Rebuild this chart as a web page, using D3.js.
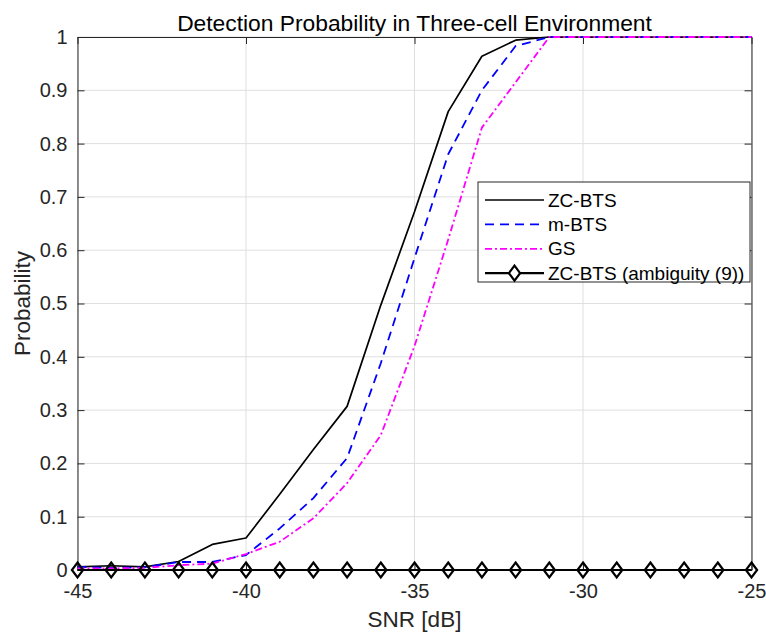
<!DOCTYPE html>
<html>
<head>
<meta charset="utf-8">
<script src="https://cdn.jsdelivr.net/npm/d3@7"></script>
<style>
  body { margin: 0; background: #fff; }
  svg { font-family: "Liberation Sans", Arial, sans-serif; }
</style>
</head>
<body>
<div id="chart"></div>
<script>
// ---------------- data
const snr = [-45, -44, -43, -42, -41, -40, -39, -38, -37, -36, -35, -34, -33, -32, -31, -30, -29, -28, -27, -26, -25]
const zcBts = [0.006, 0.008, 0.006, 0.016, 0.048, 0.060, 0.142, 0.226, 0.307, 0.497, 0.672, 0.860, 0.964, 0.994, 1, 1, 1, 1, 1, 1, 1]
const mBts  = [0.006, 0.004, 0.005, 0.015, 0.015, 0.028, 0.078, 0.135, 0.210, 0.388, 0.585, 0.780, 0.900, 0.983, 1, 1, 1, 1, 1, 1, 1]
const gs    = [0.003, 0.003, 0.004, 0.009, 0.012, 0.030, 0.053, 0.097, 0.163, 0.253, 0.420, 0.620, 0.830, 0.915, 1, 1, 1, 1, 1, 1, 1]
const zcAmb = [0, 0, 0, 0, 0, 0, 0, 0, 0, 0, 0, 0, 0, 0, 0, 0, 0, 0, 0, 0, 0]

const xTicks = [-45, -40, -35, -30, -25]
const yTicks = [0, 0.1, 0.2, 0.3, 0.4, 0.5, 0.6, 0.7, 0.8, 0.9, 1]
const seriesNames = ["ZC-BTS", "m-BTS", "GS", "ZC-BTS (ambiguity (9))"]

// ---------------- dimensions
const dims = {
    width: 766,
    height: 632,
    margin: { top: 37, right: 14.5, bottom: 62, left: 77.5 }
}
dims.boundedWidth = dims.width - dims.margin.left - dims.margin.right
dims.boundedHeight = dims.height - dims.margin.top - dims.margin.bottom

const svg = d3.select("#chart").append("svg")
    .attr("width", dims.width)
    .attr("height", dims.height)

const bounds = svg.append("g")
    .attr("transform", `translate(${dims.margin.left},${dims.margin.top})`)

// ---------------- scales
const xScale = d3.scaleLinear().domain([-45, -25]).range([0, dims.boundedWidth])
const yScale = d3.scaleLinear().domain([0, 1]).range([dims.boundedHeight, 0])

const axisColor = "#262626"

// ---------------- grid
bounds.append("g").selectAll("line")
    .data(xTicks)
    .join("line")
    .attr("x1", d => xScale(d)).attr("x2", d => xScale(d))
    .attr("y1", 0).attr("y2", dims.boundedHeight)
    .attr("stroke", "#dfdfdf").attr("stroke-width", 1)

bounds.append("g").selectAll("line")
    .data(yTicks)
    .join("line")
    .attr("y1", d => yScale(d)).attr("y2", d => yScale(d))
    .attr("x1", 0).attr("x2", dims.boundedWidth)
    .attr("stroke", "#dfdfdf").attr("stroke-width", 1)

// ---------------- axes (MATLAB-style box, ticks inward, hyphen minus)
const tickLen = 7
const fmtNum = d => d3.format("~g")(d).replace("\u2212", "-")
const styleAxis = g => {
    g.select(".domain").attr("stroke", axisColor)
    g.selectAll(".tick line").attr("stroke", axisColor)
    g.selectAll(".tick text").attr("fill", axisColor).attr("font-size", 20)
        .attr("font-family", "Liberation Sans, Arial, sans-serif")
}

bounds.append("g")
    .attr("transform", `translate(0,${dims.boundedHeight})`)
    .call(d3.axisBottom(xScale).tickValues(xTicks).tickFormat(fmtNum).tickSizeInner(-tickLen).tickSizeOuter(0).tickPadding(14))
    .call(styleAxis)

bounds.append("g")
    .call(d3.axisTop(xScale).tickValues(xTicks).tickSizeInner(-tickLen).tickSizeOuter(0).tickFormat(""))
    .call(styleAxis)

bounds.append("g")
    .call(d3.axisLeft(yScale).tickValues(yTicks).tickFormat(fmtNum).tickSizeInner(-tickLen).tickSizeOuter(0).tickPadding(10))
    .call(styleAxis)

bounds.append("g")
    .attr("transform", `translate(${dims.boundedWidth},0)`)
    .call(d3.axisRight(yScale).tickValues(yTicks).tickSizeInner(-tickLen).tickSizeOuter(0).tickFormat(""))
    .call(styleAxis)

// ---------------- lines
const series = [
    { name: seriesNames[0], values: zcBts, color: "#000000", dash: null, width: 1.7, marker: false },
    { name: seriesNames[1], values: mBts, color: "#0000ff", dash: "9,6", width: 1.8, marker: false },
    { name: seriesNames[2], values: gs, color: "#ff00ff", dash: "7,3,2,3", width: 1.8, marker: false },
    { name: seriesNames[3], values: zcAmb, color: "#000000", dash: null, width: 2.2, marker: true }
]

const lineGenerator = d3.line()
    .x((d, i) => xScale(snr[i]))
    .y(d => yScale(d))

const diamond = "M0,-7.5L5.6,0L0,7.5L-5.6,0Z"

series.forEach(s => {
    bounds.append("path")
        .attr("d", lineGenerator(s.values))
        .attr("fill", "none")
        .attr("stroke", s.color)
        .attr("stroke-width", s.width)
        .attr("stroke-dasharray", s.dash)
        .attr("stroke-linejoin", "round")

    if (s.marker) {
        bounds.append("g").selectAll("path")
            .data(s.values)
            .join("path")
            .attr("d", diamond)
            .attr("transform", (d, i) => `translate(${xScale(snr[i])},${yScale(d)})`)
            .attr("fill", "none")
            .attr("stroke", s.color)
            .attr("stroke-width", 2.2)
    }
})

// ---------------- legend
const legend = bounds.append("g")
    .attr("transform", `translate(${478 - dims.margin.left},${182 - dims.margin.top})`)

legend.append("rect")
    .attr("width", 272).attr("height", 100)
    .attr("fill", "#fff").attr("stroke", axisColor).attr("stroke-width", 1)

const legendRows = legend.selectAll("g")
    .data(series)
    .join("g")
    .attr("transform", (d, i) => `translate(0,${18 + i * 24.4})`)

legendRows.append("line")
    .attr("x1", 7).attr("x2", 66)
    .attr("stroke", d => d.color)
    .attr("stroke-width", d => d.width)
    .attr("stroke-dasharray", d => d.dash)

legendRows.filter(d => d.marker).append("path")
    .attr("d", diamond)
    .attr("transform", "translate(36.5,0)")
    .attr("fill", "#fff")
    .attr("stroke", "#000").attr("stroke-width", 2.2)

legendRows.append("text")
    .attr("x", 70)
    .attr("dy", "0.35em")
    .attr("font-size", 19)
    .attr("fill", "#000")
    .text(d => d.name)

// ---------------- labels
svg.append("text")
    .attr("x", dims.margin.left + dims.boundedWidth / 2)
    .attr("y", 31)
    .attr("text-anchor", "middle")
    .attr("font-size", 22.8)
    .attr("fill", "#000")
    .text("Detection Probability in Three-cell Environment")

svg.append("text")
    .attr("x", dims.margin.left + dims.boundedWidth / 2)
    .attr("y", 627)
    .attr("text-anchor", "middle")
    .attr("font-size", 22.5)
    .attr("fill", axisColor)
    .text("SNR [dB]")

svg.append("text")
    .attr("transform", `translate(30,${dims.margin.top + dims.boundedHeight / 2}) rotate(-90)`)
    .attr("text-anchor", "middle")
    .attr("font-size", 22.5)
    .attr("fill", axisColor)
    .text("Probability")
</script>
</body>
</html>
